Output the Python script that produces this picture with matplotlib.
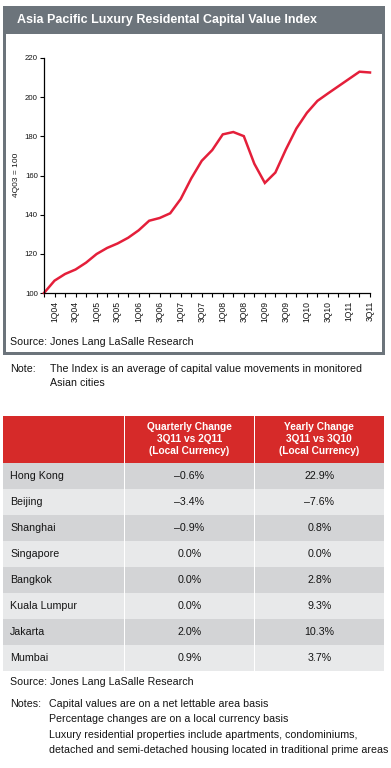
import matplotlib
matplotlib.use("Agg")
import matplotlib.pyplot as plt
from matplotlib.patches import Rectangle

# ---------------- data ----------------
quarters = ["4Q03",
            "1Q04", "2Q04", "3Q04", "4Q04",
            "1Q05", "2Q05", "3Q05", "4Q05",
            "1Q06", "2Q06", "3Q06", "4Q06",
            "1Q07", "2Q07", "3Q07", "4Q07",
            "1Q08", "2Q08", "3Q08", "4Q08",
            "1Q09", "2Q09", "3Q09", "4Q09",
            "1Q10", "2Q10", "3Q10", "4Q10",
            "1Q11", "2Q11", "3Q11"]
index_values = [100.0, 106.3, 109.7, 112.0, 115.5, 119.9, 123.0, 125.3,
                128.2, 132.0, 136.9, 138.3, 140.7, 148.0, 158.5, 167.5,
                173.0, 181.0, 182.2, 180.1, 166.0, 156.2, 161.5, 173.3,
                184.0, 192.0, 198.1, 201.9, 205.6, 209.3, 213.0, 212.6]
y_ticks = [100, 120, 140, 160, 180, 200, 220]

cities = ["Hong Kong", "Beijing", "Shanghai", "Singapore", "Bangkok",
          "Kuala Lumpur", "Jakarta", "Mumbai"]
quarterly_change = ["\u20130.6%", "\u20133.4%", "\u20130.9%", "0.0%", "0.0%",
                    "0.0%", "2.0%", "0.9%"]
yearly_change = ["22.9%", "\u20137.6%", "0.8%", "0.0%", "2.8%",
                 "9.3%", "10.3%", "3.7%"]
header_quarterly = "Quarterly Change\n3Q11 vs 2Q11\n(Local Currency)"
header_yearly = "Yearly Change\n3Q11 vs 3Q10\n(Local Currency)"

title = "Asia Pacific Luxury Residental Capital Value Index"
y_label = "4Q03 = 100"
source = "Source: Jones Lang LaSalle Research"
note_text = ["The Index is an average of capital value movements in monitored",
             "Asian cities"]
notes = ["Capital values are on a net lettable area basis",
         "Percentage changes are on a local currency basis",
         "Luxury residential properties include apartments, condominiums,",
         "detached and semi-detached housing located in traditional prime areas"]

# ---------------- style ----------------
W, H = 391, 768
SANS = ["Liberation Sans", "DejaVu Sans"]
GRAY = "#6c747b"
RED_LINE = "#e41f3a"
RED_HDR = "#d62a29"
ROW_DARK = "#d3d4d6"
ROW_LIGHT = "#e8e9ea"
TXT = "#141414"
BODY = 7.65

fig = plt.figure(figsize=(W / 100, H / 100), dpi=100)
fig.patch.set_facecolor("white")


def fx(px):
    return px / W


def fy(py):
    return 1 - py / H


def rect(x0, y0, x1, y1, color):
    fig.patches.append(Rectangle((fx(x0), fy(y1)), fx(x1) - fx(x0), fy(y0) - fy(y1),
                                 transform=fig.transFigure, facecolor=color,
                                 edgecolor="none", zorder=-5))


def text(xp, yp, s, **kw):
    kw.setdefault("family", SANS)
    kw.setdefault("fontsize", BODY)
    kw.setdefault("color", TXT)
    kw.setdefault("va", "center")
    fig.text(fx(xp), fy(yp), s, **kw)


# ---------------- chart panel ----------------
rect(3, 6, 385, 354.5, GRAY)
rect(6, 34, 382, 351.5, "white")
text(17, 20.5, title, color="white", fontweight="bold", fontsize=9.0)

ax_l, ax_r, ax_t, ax_b = 44, 370, 58, 293
ax = fig.add_axes([fx(ax_l), fy(ax_b), fx(ax_r) - fx(ax_l), fy(ax_t) - fy(ax_b)])
ax.set_zorder(2)
ax.set_facecolor("none")
xs = list(range(len(quarters)))
ax.plot(xs, index_values, color=RED_LINE, lw=1.8, solid_joinstyle="miter",
        clip_on=False)
ax.set_xlim(0, len(quarters) - 1)
ax.set_ylim(y_ticks[0], y_ticks[-1])
ax.set_yticks(y_ticks)
ax.set_yticklabels([str(v) for v in y_ticks], family=SANS, fontsize=5.6)
ax.set_xticks(xs)
ax.set_xticklabels([q if i % 2 == 1 else "" for i, q in enumerate(quarters)],
                   rotation=90, family=SANS, fontsize=6.2)
for lab in ax.get_xticklabels():
    lab.set_va("top")
ax.tick_params(axis="both", length=3, width=0.8, color="black", pad=1.5,
               labelcolor=TXT)
ax.tick_params(axis="x", pad=2.5)
for side in ("top", "right"):
    ax.spines[side].set_visible(False)
for side in ("left", "bottom"):
    ax.spines[side].set_linewidth(0.9)
text(16, 175, y_label, rotation=90, ha="center", fontsize=6.0)

text(10, 342, source)

# ---------------- note ----------------
text(10, 369, "Note:")
text(50, 369, note_text[0])
text(50, 383, note_text[1])

# ---------------- table ----------------
tx0, tx1 = 3, 384
c1, c2 = 124.5, 254.5
hdr_top, hdr_bot = 415.5, 463
row_h = 26.0
rect(tx0, hdr_top, tx1, hdr_bot, RED_HDR)
for i in range(len(cities)):
    y0 = hdr_bot + i * row_h
    rect(tx0, y0, tx1, y0 + row_h, ROW_DARK if i % 2 == 0 else ROW_LIGHT)
tab_bot = hdr_bot + len(cities) * row_h
for cx in (c1, c2):
    rect(cx - 0.6, hdr_top, cx + 0.6, tab_bot, "white")

mid1 = (c1 + c2) / 2
mid2 = (c2 + tx1) / 2
text(mid1, 439.5, header_quarterly, color="white", fontweight="bold",
     ha="center", fontsize=7.3, linespacing=1.25)
text(mid2, 439.5, header_yearly, color="white", fontweight="bold",
     ha="center", fontsize=7.3, linespacing=1.25)
for i, city in enumerate(cities):
    yc = hdr_bot + i * row_h + row_h / 2
    text(10, yc, city)
    text(mid1, yc, quarterly_change[i], ha="center")
    text(mid2, yc, yearly_change[i], ha="center")

# ---------------- footer ----------------
text(10, 682, source)
text(10, 704, "Notes:")
for k, line in enumerate(notes):
    text(49, 704 + k * 15.3, line)

fig.savefig("out.png", dpi=100, facecolor="white")
